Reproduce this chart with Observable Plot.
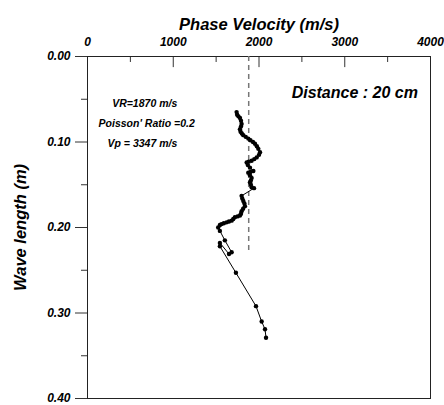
<!DOCTYPE html>
<html><head><meta charset="utf-8">
<script src="https://cdn.jsdelivr.net/npm/d3@7"></script>
<script src="https://cdn.jsdelivr.net/npm/@observablehq/plot@0.6"></script>
<style>body{margin:0;background:#fff}</style>
</head><body><div id="chart"></div>
<script>
// Phase velocity (m/s) vs wave length (m), in measured order
const velocity = [1739,1745,1760,1778,1790,1797,1790,1778,1785,1800,1817,1845,1875,1900,1930,1953,1975,1992,2012,2000,1973,1945,1914,1880,1856,1870,1895,1934,1900,1875,1895,1914,1905,1895,1905,1914,1942,
  1797,1805,1817,1830,1836,1815,1797,1790,1778,1750,1719,1700,1681,1650,1622,1590,1563,1544,1524,
  1544,1602,1681,1650,1544,1544,1731,1965,2031,2070,2082];
const wavelength = [0.065,0.068,0.070,0.072,0.075,0.079,0.082,0.085,0.088,0.090,0.092,0.094,0.096,0.098,0.100,0.102,0.105,0.108,0.112,0.115,0.118,0.120,0.122,0.123,0.124,0.127,0.130,0.134,0.135,0.136,0.139,0.142,0.145,0.147,0.150,0.153,0.154,
  0.163,0.166,0.169,0.172,0.175,0.178,0.181,0.184,0.186,0.187,0.188,0.190,0.192,0.193,0.194,0.195,0.196,0.197,0.200,
  0.204,0.215,0.229,0.231,0.218,0.222,0.253,0.292,0.310,0.319,0.329];
const xTicks = [0, 1000, 2000, 3000, 4000];
const xMinorTicks = [500, 1500, 2500, 3500];
const yTicks = [0, 0.1, 0.2, 0.3, 0.4];
const yMinorTicks = [0.05, 0.15, 0.25, 0.35];
const vrValue = 1880;       // dashed reference line
const vrLineEnd = 0.23;
const noteLabels = ["VR=1870 m/s", "Poisson' Ratio =0.2", "Vp = 3347 m/s"];
const noteX = [667, 690, 640];
const noteY = [0.055, 0.079, 0.102];
const distanceLabel = "Distance : 20 cm";
const distanceX = 3117, distanceY = 0.042;

const data = velocity.map((v, i) => ({v, w: wavelength[i]}));
const notes = noteLabels.map((t, i) => ({t, x: noteX[i], y: noteY[i]}));

const chart = Plot.plot({
  width: 444, height: 405,
  marginLeft: 87, marginRight: 14, marginTop: 56, marginBottom: 7,
  x: {domain: [0, 4000]},
  y: {domain: [0, 0.4], reverse: true},
  style: {fontFamily: "'Liberation Sans', Arial, sans-serif", fontWeight: "bold", fontStyle: "italic", fontSize: "12px", color: "#000", background: "#fff"},
  marks: [
    Plot.axisX(xTicks, {anchor: "top", tickSize: 0, tickPadding: 11, label: null, tickFormat: d => String(d), fontSize: 12}),
    Plot.ruleX(xTicks.slice(1, -1), {y1: 0, y2: 0.013, stroke: "#333"}),
    Plot.ruleX(xMinorTicks, {y1: 0, y2: 0.007, stroke: "#333"}),
    Plot.axisY(yTicks, {anchor: "left", tickSize: 12, tickPadding: 5, label: null, tickFormat: d3.format(".2f"), stroke: "#333", fontSize: 12}),
    Plot.axisY(yMinorTicks, {anchor: "left", tickSize: 6, label: null, tickFormat: () => "", stroke: "#333"}),
    Plot.frame({stroke: "#222"}),
    Plot.ruleX([vrValue], {y1: 0, y2: vrLineEnd, stroke: "#777", strokeWidth: 1.5, strokeDasharray: "5,4"}),
    Plot.line(data, {x: "v", y: "w", stroke: "black", strokeWidth: 1}),
    Plot.dot(data, {x: "v", y: "w", r: 2.2, fill: "black"}),
    Plot.text(notes, {x: "x", y: "y", text: "t", fontSize: 10.5, fill: "black"}),
    Plot.text([distanceLabel], {x: distanceX, y: distanceY, text: d => d, fontSize: 16, fill: "black"}),
    Plot.text(["Phase Velocity (m/s)"], {frameAnchor: "top", dy: -38, text: d => d, fontSize: 16.5, fill: "black"}),
    Plot.text(["Wave length (m)"], {frameAnchor: "left", textAnchor: "middle", dx: -67, rotate: -90, text: d => d, fontSize: 16.5, fill: "black"})
  ]
});
document.getElementById("chart").appendChild(chart);
</script>
</body></html>
